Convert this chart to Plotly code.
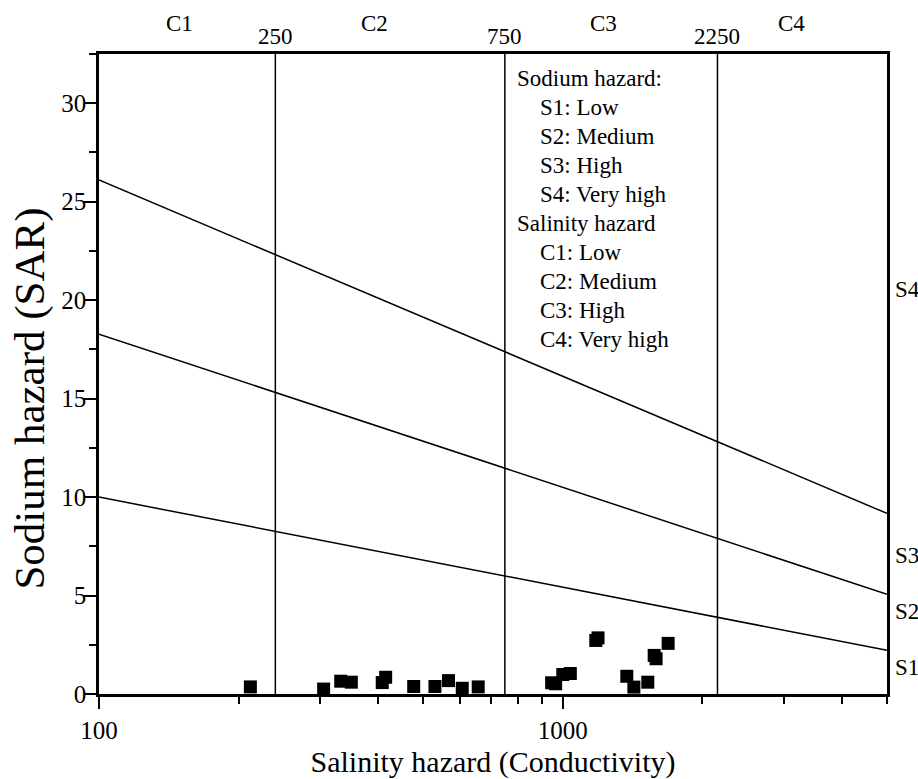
import numpy as np
import plotly.graph_objects as go

# ---- data ----
ec = [212, 305, 332, 350, 408, 415, 477, 530, 567, 607, 657,
      946, 965, 1000, 1038, 1178, 1191, 1374, 1423, 1525, 1574, 1589, 1687]
sar = [0.36, 0.25, 0.65, 0.60, 0.58, 0.85, 0.38, 0.38, 0.68, 0.29, 0.36,
       0.57, 0.52, 0.99, 1.04, 2.72, 2.85, 0.90, 0.35, 0.60, 1.96, 1.79, 2.57]

# sodium-hazard boundary lines: SAR at EC=100 and EC=5000
line_ec = [100, 5000]
s12 = [10.0, 2.22]
s23 = [18.27, 5.06]
s34 = [26.1, 9.17]

# salinity-hazard boundaries (as drawn) and their labels
c_bounds = [240, 750, 2155]
c_bound_labels = ["250", "750", "2250"]
c_classes = ["C1", "C2", "C3", "C4"]
c_class_x = [149, 393, 1224, 3112]

s_classes = ["S1", "S2", "S3", "S4"]
s_class_y = [1.35, 4.19, 7.05, 20.55]

legend_lines = [
    ("Sodium hazard:", 0), ("S1: Low", 1), ("S2: Medium", 1), ("S3: High", 1),
    ("S4: Very high", 1), ("Salinity hazard", 0), ("C1: Low", 1),
    ("C2: Medium", 1), ("C3: High", 1), ("C4: Very high", 1),
]

YMAX = 32.5
FONT = "Liberation Serif"

fig = go.Figure()
for s in (s12, s23, s34):
    fig.add_trace(go.Scatter(x=line_ec, y=s, mode="lines",
                             line=dict(color="black", width=1.5),
                             hoverinfo="skip", showlegend=False))
for b in c_bounds:
    fig.add_trace(go.Scatter(x=[b, b], y=[0, YMAX], mode="lines",
                             line=dict(color="black", width=1.5),
                             hoverinfo="skip", showlegend=False))
fig.add_trace(go.Scatter(x=ec, y=sar, mode="markers",
                         marker=dict(symbol="square", size=13, color="black",
                                     line=dict(width=0)),
                         showlegend=False))

ann = []
# top labels
for b, t in zip(c_bounds, c_bound_labels):
    ann.append(dict(x=np.log10(b), xref="x", y=1.0, yref="paper", yshift=18,
                    text=t, showarrow=False, xanchor="center", yanchor="middle",
                    font=dict(family=FONT, size=23, color="black")))
for xv, t in zip(c_class_x, c_classes):
    ann.append(dict(x=np.log10(xv), xref="x", y=1.0, yref="paper", yshift=31,
                    text=t, showarrow=False, xanchor="center", yanchor="middle",
                    font=dict(family=FONT, size=23, color="black")))
# right labels
for yv, t in zip(s_class_y, s_classes):
    ann.append(dict(x=1.0, xref="paper", xshift=6, y=yv, yref="y",
                    text=t, showarrow=False, xanchor="left", yanchor="middle",
                    font=dict(family=FONT, size=23, color="black")))
# legend text block
x_head = 790
x_item = 886
y0 = 31.28
dy = 1.474
for i, (t, ind) in enumerate(legend_lines):
    ann.append(dict(x=np.log10(x_item if ind else x_head), xref="x",
                    y=y0 - i * dy, yref="y", text=t, showarrow=False,
                    xanchor="left", yanchor="middle",
                    font=dict(family=FONT, size=23, color="black")))
# y-axis title
ann.append(dict(x=0, xref="paper", xshift=-69, y=15.0, yref="y",
                text="Sodium hazard (SAR)", textangle=-90, showarrow=False,
                xanchor="center", yanchor="middle",
                font=dict(family=FONT, size=43, color="black")))

fig.update_layout(
    width=918, height=779,
    margin=dict(l=99, r=31, t=54, b=85),
    plot_bgcolor="white", paper_bgcolor="white",
    font=dict(family=FONT, color="black"),
    annotations=ann,
)
fig.update_xaxes(
    type="log", range=[2, np.log10(5000)], automargin=False,
    tickvals=[100, 1000], ticktext=["100", "1000"],
    ticks="outside", ticklen=12, tickwidth=2, tickcolor="black",
    showline=True, linewidth=2.5, linecolor="black", mirror=True,
    showgrid=False, zeroline=False,
    tickfont=dict(family=FONT, size=25, color="black"),
    minor=dict(tickmode="array",
               tickvals=[200, 300, 400, 500, 600, 700, 800, 900, 2000, 3000, 4000, 5000],
               ticks="outside", ticklen=7, tickwidth=2, tickcolor="black",
               showgrid=False),
    title=dict(text="Salinity hazard (Conductivity)", standoff=18,
               font=dict(family=FONT, size=30, color="black")),
)
fig.update_yaxes(
    range=[0, YMAX], automargin=False, tickvals=[0, 5, 10, 15, 20, 25, 30],
    ticks="outside", ticklen=12, tickwidth=2, tickcolor="black",
    ticklabelstandoff=-7,
    showline=True, linewidth=2.5, linecolor="black", mirror=True,
    showgrid=False, zeroline=False,
    tickfont=dict(family=FONT, size=25, color="black"),
    minor=dict(tickmode="array", tickvals=[2.5, 7.5, 12.5, 17.5, 22.5, 27.5, 32.5],
               ticks="outside", ticklen=7, tickwidth=2, tickcolor="black",
               showgrid=False),
)

fig.write_html("out.html")
